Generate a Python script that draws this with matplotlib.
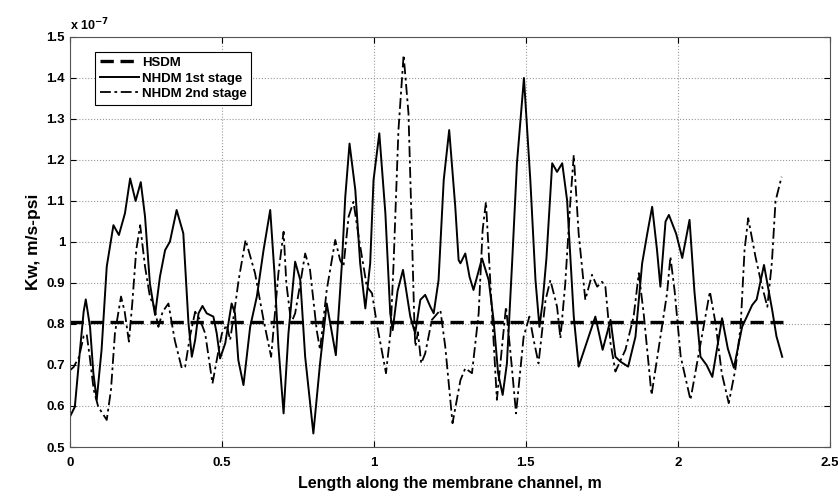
import numpy as np
import matplotlib.pyplot as plt

plt.rcParams['font.family'] = ['Liberation Sans', 'DejaVu Sans']
plt.rcParams['font.weight'] = 'bold'

# HSDM (constant), x in m, Kw in 1e-7 m/s-psi
hsdm_x = [0.0, 2.345]
hsdm_y = [0.805, 0.805]

# NHDM 1st stage
s1_x = [0.0, 0.016, 0.033, 0.045, 0.052, 0.066, 0.077, 0.088, 0.104, 0.121,
        0.143, 0.161, 0.181, 0.198, 0.216, 0.233, 0.247, 0.263, 0.28, 0.296,
        0.313, 0.329, 0.351, 0.373, 0.39, 0.401, 0.412, 0.423, 0.436, 0.45,
        0.472, 0.483, 0.494, 0.511, 0.532, 0.543, 0.554, 0.571, 0.593, 0.615,
        0.637, 0.659, 0.673, 0.686, 0.703, 0.719, 0.741, 0.758, 0.774, 0.801,
        0.823, 0.845, 0.875, 0.895, 0.906, 0.92, 0.939, 0.955, 0.972, 0.988,
        0.999, 1.018, 1.038, 1.054, 1.062, 1.078, 1.096, 1.12, 1.136, 1.153,
        1.169, 1.186, 1.197, 1.213, 1.23, 1.248, 1.268, 1.279, 1.285, 1.301,
        1.315, 1.328, 1.356, 1.378, 1.394, 1.409, 1.424, 1.438, 1.455, 1.471,
        1.494, 1.515, 1.532, 1.545, 1.555, 1.568, 1.587, 1.603, 1.62, 1.636,
        1.658, 1.674, 1.707, 1.729, 1.753, 1.779, 1.795, 1.812, 1.837, 1.861,
        1.883, 1.9, 1.916, 1.932, 1.943, 1.96, 1.971, 1.995, 2.015, 2.039,
        2.055, 2.075, 2.095, 2.114, 2.146, 2.165, 2.185, 2.212, 2.245, 2.26,
        2.284, 2.311, 2.325, 2.344]
s1_y = [0.574, 0.598, 0.737, 0.83, 0.86, 0.793, 0.68, 0.615, 0.737, 0.94,
        1.041, 1.017, 1.07, 1.155, 1.10, 1.146, 1.062, 0.899, 0.822, 0.915,
        0.98, 1.001, 1.078, 1.021, 0.802, 0.72, 0.761, 0.826, 0.844, 0.826,
        0.818, 0.777, 0.716, 0.753, 0.85, 0.826, 0.712, 0.651, 0.793, 0.867,
        0.98, 1.078, 0.924, 0.745, 0.582, 0.777, 0.952, 0.907, 0.72, 0.533,
        0.704, 0.85, 0.724, 0.948, 1.11, 1.24, 1.127, 0.948, 0.838, 0.948,
        1.151, 1.265, 1.07, 0.826, 0.785, 0.88, 0.932, 0.818, 0.777, 0.859,
        0.871, 0.842, 0.826, 0.907, 1.151, 1.273, 1.086, 0.956, 0.948, 0.972,
        0.915, 0.883, 0.96, 0.907, 0.81, 0.68, 0.627, 0.704, 0.948, 1.192,
        1.40, 1.151, 0.907, 0.793, 0.85, 0.96, 1.192, 1.171, 1.192, 1.102,
        0.818, 0.696, 0.769, 0.818, 0.737, 0.81, 0.72, 0.708, 0.696, 0.769,
        0.948, 1.021, 1.086, 0.98, 0.891, 1.05, 1.066, 1.02, 0.961, 1.054,
        0.88, 0.72, 0.70, 0.671, 0.814, 0.74, 0.693, 0.793, 0.846, 0.86,
        0.944, 0.834, 0.77, 0.72]

# NHDM 2nd stage
s2_x = [0.0, 0.012, 0.03, 0.045, 0.055, 0.065, 0.078, 0.093, 0.121, 0.135,
        0.148, 0.168, 0.18, 0.194, 0.205, 0.218, 0.231, 0.247, 0.263, 0.278,
        0.291, 0.305, 0.324, 0.345, 0.368, 0.379, 0.395, 0.412, 0.428, 0.445,
        0.469, 0.485, 0.5, 0.516, 0.527, 0.541, 0.555, 0.578, 0.609, 0.637,
        0.662, 0.686, 0.703, 0.712, 0.728, 0.741, 0.758, 0.774, 0.79, 0.812,
        0.823, 0.845, 0.873, 0.889, 0.9, 0.917, 0.933, 0.95, 0.977, 0.994,
        1.01, 1.04, 1.055, 1.065, 1.081, 1.098, 1.114, 1.125, 1.134, 1.137,
        1.145, 1.156, 1.169, 1.191, 1.219, 1.235, 1.259, 1.285, 1.301, 1.323,
        1.345, 1.358, 1.369, 1.389, 1.405, 1.424, 1.435, 1.453, 1.468, 1.493,
        1.512, 1.526, 1.542, 1.565, 1.581, 1.603, 1.614, 1.63, 1.647, 1.658,
        1.674, 1.696, 1.718, 1.735, 1.751, 1.762, 1.779, 1.795, 1.828, 1.855,
        1.872, 1.888, 1.914, 1.943, 1.965, 1.976, 1.99, 2.01, 2.042, 2.07,
        2.106, 2.125, 2.145, 2.168, 2.19, 2.207, 2.22, 2.232, 2.256, 2.275,
        2.295, 2.31, 2.322, 2.342]
s2_y = [0.687, 0.695, 0.72, 0.77, 0.775, 0.72, 0.64, 0.598, 0.566, 0.64,
        0.778, 0.867, 0.83, 0.757, 0.85, 0.98, 1.041, 0.94, 0.867, 0.84,
        0.793, 0.83, 0.85, 0.76, 0.692, 0.696, 0.77, 0.83, 0.81, 0.777,
        0.655, 0.72, 0.777, 0.798, 0.761, 0.83, 0.907, 1.005, 0.924, 0.81,
        0.72, 0.924, 1.025, 0.9, 0.802, 0.826, 0.899, 0.972, 0.932, 0.785,
        0.737, 0.883, 1.005, 0.956, 0.94, 1.062, 1.098, 1.013, 0.891, 0.875,
        0.80, 0.68, 0.78, 0.948, 1.273, 1.456, 1.314, 1.029, 0.785, 0.745,
        0.78, 0.704, 0.728, 0.81, 0.834, 0.745, 0.558, 0.663, 0.692, 0.68,
        0.826, 1.029, 1.098, 0.826, 0.615, 0.761, 0.842, 0.704, 0.582, 0.769,
        0.818, 0.761, 0.704, 0.858, 0.907, 0.842, 0.765, 0.899, 1.102, 1.212,
        1.021, 0.859, 0.92, 0.891, 0.903, 0.891, 0.753, 0.684, 0.737, 0.818,
        0.924, 0.826, 0.627, 0.769, 0.875, 0.964, 0.88, 0.72, 0.615, 0.73,
        0.879, 0.80, 0.68, 0.607, 0.69, 0.793, 0.98, 1.058, 0.964, 0.90,
        0.842, 0.95, 1.10, 1.159]

fig = plt.figure(figsize=(8.38, 4.97), dpi=100)
ax = fig.add_axes([0.0835, 0.1006, 0.9065, 0.825])

ax.plot(hsdm_x, hsdm_y, color='black', lw=2.4, ls=(0, (4, 2)), label='HSDM')
ax.plot(s1_x, s1_y, color='black', lw=1.4, solid_joinstyle='round', label='NHDM 1st stage')
ax.plot(s2_x, s2_y, color='black', lw=1.3, ls=(0, (6, 2, 1.5, 2)),
        label='NHDM 2nd stage')

ax.set_xlim(0, 2.5)
ax.set_ylim(0.5, 1.5)
ax.set_xticks([0, 0.5, 1, 1.5, 2, 2.5])
ax.set_xticklabels(['0', '0.5', '1', '1.5', '2', '2.5'])
ax.set_yticks(np.arange(0.5, 1.51, 0.1))
ax.set_yticklabels(['0.5', '0.6', '0.7', '0.8', '0.9', '1', '1.1', '1.2', '1.3', '1.4', '1.5'])
ax.tick_params(direction='in', top=True, right=True, labelsize=9.5, length=4, width=0.8)
ax.tick_params(axis='x', pad=7)
ax.grid(True, ls=':', color='#999999', lw=0.8)
for sp in ax.spines.values():
    sp.set_color('#555555')

ax.set_xlabel('Length along the membrane channel, m', fontsize=11.5, fontweight='bold', labelpad=5)
ax.set_ylabel('Kw, m/s-psi', fontsize=12.5, fontweight='bold', labelpad=4)
ax.text(0.0, 1.008, r'x 10$^{-7}$', transform=ax.transAxes, fontsize=9, fontweight='bold',
        ha='left', va='bottom')

leg = ax.legend(loc='upper left', bbox_to_anchor=(0.033, 0.963), fontsize=9.5,
                frameon=True, fancybox=False, edgecolor='black', framealpha=1,
                handlelength=3, handletextpad=0.2, borderpad=0.35, labelspacing=0.25,
                borderaxespad=0)
leg.get_frame().set_linewidth(0.8)
for t in leg.get_texts():
    t.set_fontweight('bold')

fig.savefig('out.png', dpi=100)
